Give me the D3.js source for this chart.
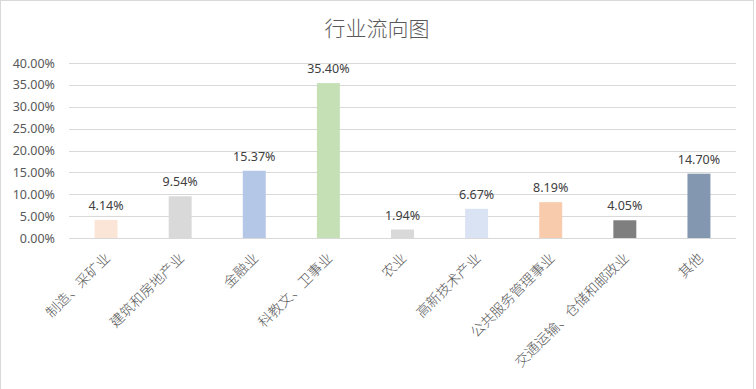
<!DOCTYPE html>
<html>
<head>
<meta charset="utf-8">
<script src="https://cdn.jsdelivr.net/npm/d3@7"></script>
<style>
  body { margin: 0; background: #fff; }
</style>
</head>
<body>
<div id="chart"></div>
<script>
var categories = ['制造、采矿业', '建筑和房地产业', '金融业', '科教文、卫事业', '农业',
                  '高新技术产业', '公共服务管理事业', '交通运输、仓储和邮政业', '其他'];
var values = [4.14, 9.54, 15.37, 35.40, 1.94, 6.67, 8.19, 4.05, 14.70]; // percent
var barColors = ['#FBE5D6', '#D9D9D9', '#B4C7E7', '#C5E0B4', '#D9D9D9',
                 '#DAE3F3', '#F8CBAD', '#7F7F7F', '#8497B0'];
var yTicks = [0, 5, 10, 15, 20, 25, 30, 35, 40];
var title = '行业流向图';

var W = 756, H = 389;
var margin = { top: 63, right: 20, bottom: 151, left: 69 };
var width = 736 - margin.left,
    height = 238 - margin.top;

var svg = d3.select('#chart').append('svg')
    .attr('width', W)
    .attr('height', H);

// chart border
svg.append('rect')
    .attr('x', 0.5).attr('y', 0.5)
    .attr('width', 753).attr('height', H + 5)
    .attr('fill', '#fff')
    .attr('stroke', '#D9D9D9');

svg.append('text')
    .attr('x', 377)
    .attr('y', 36)
    .attr('text-anchor', 'middle')
    .style('font-family', '"Noto Sans CJK SC", sans-serif')
    .style('font-weight', 300)
    .style('font-size', '21px')
    .style('fill', '#595959')
    .text(title);

var g = svg.append('g')
    .attr('transform', 'translate(' + margin.left + ',' + margin.top + ')');

var x = d3.scaleBand().domain(categories).range([0, width]).padding(0);
var y = d3.scaleLinear().domain([0, 40]).range([height, 0]);

// gridlines
g.selectAll('.grid').data(yTicks).enter().append('line')
    .attr('x1', 0).attr('x2', width)
    .attr('y1', function(d) { return Math.round(y(d)) + 0.5; })
    .attr('y2', function(d) { return Math.round(y(d)) + 0.5; })
    .attr('stroke', '#D9D9D9')
    .attr('stroke-width', 1);

// y axis labels
var yAxis = d3.axisLeft(y).tickValues(yTicks).tickSize(0).tickPadding(14)
    .tickFormat(function(d) { return d.toFixed(2) + '%'; });
var ya = g.append('g').call(yAxis);
ya.select('.domain').remove();
ya.selectAll('text')
    .style('font-family', '"Noto Sans", sans-serif')
    .style('font-size', '12.5px')
    .style('fill', '#595959');

// bars
var barW = x.bandwidth() * 0.31;
g.selectAll('.bar').data(values).enter().append('rect')
    .attr('x', function(d, i) { return x(categories[i]) + (x.bandwidth() - barW) / 2; })
    .attr('y', function(d) { return y(d); })
    .attr('width', barW)
    .attr('height', function(d) { return height - y(d); })
    .attr('fill', function(d, i) { return barColors[i]; });

// value labels
g.selectAll('.val').data(values).enter().append('text')
    .attr('x', function(d, i) { return x(categories[i]) + x.bandwidth() / 2; })
    .attr('y', function(d) { return y(d) - 10; })
    .attr('text-anchor', 'middle')
    .style('font-family', '"Noto Sans", sans-serif')
    .style('font-size', '12.5px')
    .style('fill', '#404040')
    .text(function(d) { return d.toFixed(2) + '%'; });

// x axis line
g.append('line')
    .attr('x1', 0).attr('x2', width)
    .attr('y1', height + 0.5).attr('y2', height + 0.5)
    .attr('stroke', '#D9D9D9');

// category labels
g.selectAll('.cat').data(categories).enter().append('text')
    .attr('transform', function(d) {
        return 'translate(' + (x(d) + x.bandwidth() / 2 + 5) + ',' + (height + 21) + ') rotate(-45)';
    })
    .attr('text-anchor', 'end')
    .style('font-family', '"Noto Sans CJK SC", sans-serif')
    .style('font-weight', 300)
    .style('font-size', '14px')
    .style('fill', '#595959')
    .text(function(d) { return d; });
</script>
</body>
</html>
